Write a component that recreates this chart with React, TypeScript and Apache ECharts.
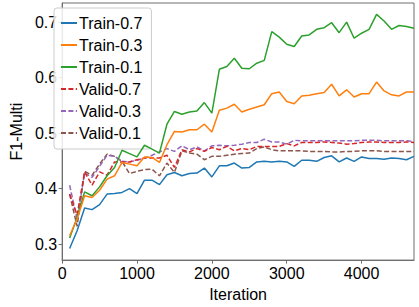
import React, { useEffect, useRef } from "react";
import * as echarts from "echarts";

const iterations = [100, 200, 300, 400, 500, 600, 700, 800, 900, 1000, 1100, 1200, 1300, 1400, 1500, 1600, 1700, 1800, 1900, 2000, 2100, 2200, 2300, 2400, 2500, 2600, 2700, 2800, 2900, 3000, 3100, 3200, 3300, 3400, 3500, 3600, 3700, 3800, 3900, 4000, 4100, 4200, 4300, 4400, 4500, 4600, 4700];

const train07 = [0.292, 0.324, 0.365, 0.362, 0.371, 0.39, 0.391, 0.393, 0.4, 0.391, 0.415, 0.415, 0.407, 0.425, 0.429, 0.423, 0.427, 0.428, 0.437, 0.421, 0.441, 0.441, 0.446, 0.437, 0.438, 0.448, 0.449, 0.448, 0.449, 0.448, 0.44, 0.451, 0.451, 0.449, 0.456, 0.459, 0.448, 0.455, 0.449, 0.457, 0.454, 0.454, 0.453, 0.455, 0.454, 0.452, 0.458];
const train03 = [0.315, 0.345, 0.387, 0.384, 0.397, 0.417, 0.423, 0.447, 0.444, 0.441, 0.457, 0.456, 0.447, 0.479, 0.503, 0.502, 0.506, 0.506, 0.516, 0.502, 0.541, 0.545, 0.552, 0.538, 0.543, 0.547, 0.551, 0.571, 0.574, 0.557, 0.553, 0.567, 0.568, 0.571, 0.573, 0.588, 0.567, 0.578, 0.565, 0.571, 0.571, 0.592, 0.576, 0.569, 0.567, 0.574, 0.574];
const train01 = [0.311, 0.348, 0.394, 0.387, 0.403, 0.423, 0.438, 0.469, 0.463, 0.457, 0.478, 0.471, 0.464, 0.516, 0.539, 0.534, 0.538, 0.54, 0.555, 0.536, 0.615, 0.62, 0.635, 0.617, 0.616, 0.626, 0.631, 0.683, 0.673, 0.66, 0.656, 0.675, 0.677, 0.687, 0.69, 0.699, 0.681, 0.7, 0.671, 0.68, 0.687, 0.714, 0.702, 0.687, 0.694, 0.692, 0.689];
const valid07 = [0.39, 0.352, 0.43, 0.406, 0.43, 0.424, 0.448, 0.448, 0.448, 0.452, 0.455, 0.455, 0.455, 0.46, 0.438, 0.47, 0.466, 0.472, 0.467, 0.474, 0.47, 0.476, 0.468, 0.472, 0.47, 0.476, 0.476, 0.476, 0.476, 0.481, 0.477, 0.483, 0.483, 0.483, 0.484, 0.483, 0.482, 0.48, 0.481, 0.483, 0.484, 0.484, 0.483, 0.483, 0.483, 0.484, 0.483];
const valid03 = [0.406, 0.345, 0.428, 0.42, 0.44, 0.46, 0.458, 0.449, 0.448, 0.451, 0.455, 0.46, 0.466, 0.472, 0.467, 0.477, 0.47, 0.475, 0.468, 0.477, 0.478, 0.477, 0.478, 0.48, 0.483, 0.483, 0.489, 0.484, 0.484, 0.48, 0.487, 0.486, 0.486, 0.486, 0.486, 0.486, 0.486, 0.486, 0.486, 0.487, 0.487, 0.487, 0.486, 0.486, 0.486, 0.486, 0.485];
const valid01 = [0.39, 0.332, 0.431, 0.424, 0.444, 0.462, 0.458, 0.449, 0.427, 0.431, 0.434, 0.435, 0.423, 0.446, 0.429, 0.468, 0.464, 0.462, 0.452, 0.458, 0.458, 0.46, 0.462, 0.463, 0.464, 0.472, 0.475, 0.47, 0.468, 0.468, 0.468, 0.468, 0.467, 0.467, 0.467, 0.466, 0.466, 0.467, 0.467, 0.468, 0.468, 0.468, 0.467, 0.467, 0.467, 0.467, 0.467];

const seriesNames = ["Train-0.7", "Train-0.3", "Train-0.1", "Valid-0.7", "Valid-0.3", "Valid-0.1"];
const seriesValues = [train07, train03, train01, valid07, valid03, valid01];
const seriesColors = ["#1f77b4", "#ff7f0e", "#2ca02c", "#d62728", "#9467bd", "#8c564b"];
const seriesDashed = [false, false, false, true, true, true];
const yTicks = [0.3, 0.4, 0.5, 0.6, 0.7];

const FONT = "Liberation Sans";
const AXIS_COLOR = "#6e6e6e";

export default function App() {
  const ref = useRef<HTMLDivElement>(null);
  useEffect(() => {
    document.body.style.margin = "0";
    if (!ref.current) return;
    const chart = echarts.init(ref.current, null, { renderer: "svg" });
    chart.setOption({
      animation: false,
      grid: {
        left: 50,
        right: 5,
        top: 3,
        bottom: 38,
        show: true,
        borderColor: AXIS_COLOR,
        borderWidth: 1,
        backgroundColor: "transparent",
      },
      legend: {
        orient: "vertical",
        left: 54,
        top: 8,
        padding: [6, 9, 7, 6],
        itemWidth: 16,
        itemHeight: 10,
        itemGap: 4,
        backgroundColor: "rgba(255,255,255,0.85)",
        borderColor: "#cccccc",
        borderWidth: 1,
        borderRadius: 3,
        itemStyle: { opacity: 0 },
        textStyle: { fontFamily: FONT, fontSize: 16, color: "#000", lineHeight: 18, padding: [0, 0, 0, -3] },
        data: seriesNames,
      },
      xAxis: {
        type: "value",
        min: 0,
        max: 4700,
        interval: 1000,
        name: "Iteration",
        nameLocation: "middle",
        nameGap: 21,
        nameTextStyle: { fontFamily: FONT, fontSize: 16, color: "#000" },
        axisLine: { show: true, lineStyle: { color: AXIS_COLOR, width: 1 } },
        axisTick: { show: true, length: 3.5, lineStyle: { color: AXIS_COLOR } },
        axisLabel: {
          fontFamily: FONT,
          fontSize: 16,
          color: "#000",
          margin: 5,
          showMaxLabel: false,
          formatter: (v: number) => String(v),
        },
        splitLine: { show: false },
      },
      yAxis: {
        type: "value",
        min: 0.271,
        max: 0.7345,
        name: "F1-Multi",
        nameLocation: "middle",
        nameGap: 36,
        nameTextStyle: { fontFamily: FONT, fontSize: 16, color: "#000" },
        axisLine: { show: true, lineStyle: { color: AXIS_COLOR, width: 1 } },
        axisTick: { show: true, length: 3.5, lineStyle: { color: AXIS_COLOR }, customValues: yTicks },
        axisLabel: {
          fontFamily: FONT,
          fontSize: 16,
          color: "#000",
          margin: 5,
          customValues: yTicks,
          formatter: (v: number) => v.toFixed(1),
        },
        splitLine: { show: false },
      },
      series: seriesNames.map((name, i) => ({
        name,
        type: "line",
        symbol: "none",
        showSymbol: false,
        data: iterations.map((it, j) => [it, seriesValues[i][j]]),
        lineStyle: {
          color: seriesColors[i],
          width: 1.5,
          type: seriesDashed[i] ? [5, 2.4] : "solid",
        },
        itemStyle: { color: seriesColors[i] },
        z: 2 + (5 - i),
      })),
    });
    return () => chart.dispose();
  }, []);
  return <div ref={ref} style={{ width: 419, height: 307 }} />;
}
